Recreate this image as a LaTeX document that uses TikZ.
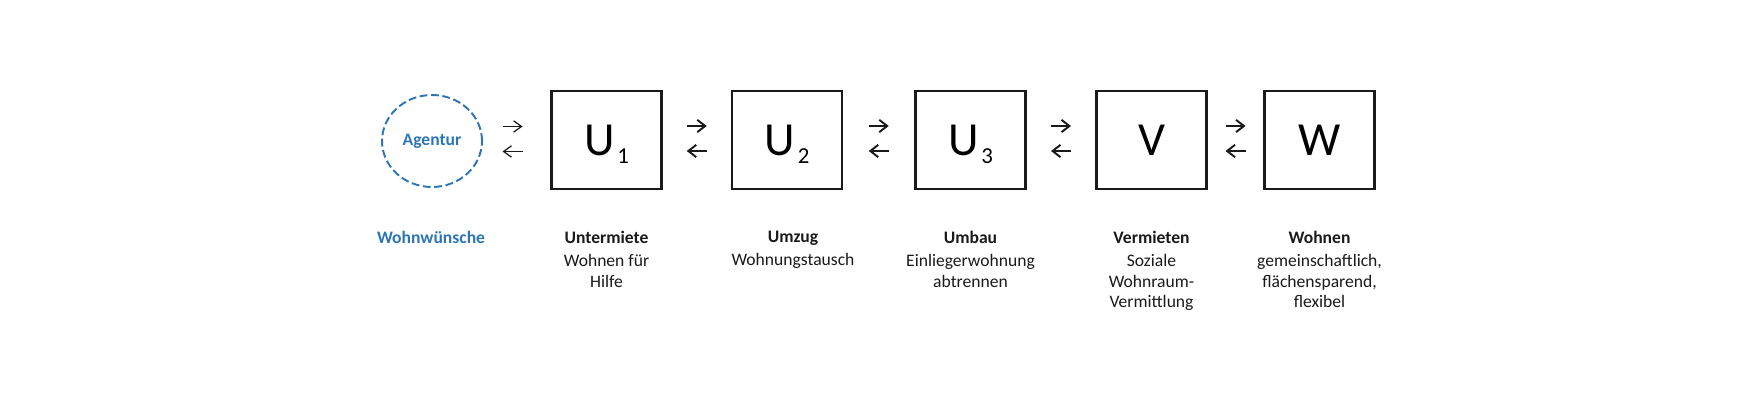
\documentclass[tikz,border=0pt]{standalone}
\usepackage{fontspec}
\setmainfont{Carlito}
\usetikzlibrary{shapes.geometric,arrows.meta,positioning,calc}
\definecolor{agblue}{HTML}{2E75B6}
\definecolor{dark}{HTML}{1A1A1A}

\newcommand{\unitname}[2]{{\fontsize{27}{30}\selectfont #1\kern1.5pt\raisebox{-5pt}[0pt][0pt]{\fontsize{13}{14}\selectfont #2}}}

\begin{document}
\begin{tikzpicture}[
    stage/.style={rectangle, draw=dark, line width=1.6pt, minimum width=2.2cm, minimum height=1.96cm, inner sep=0pt},
    caption/.style={anchor=north, inner sep=0pt, align=center, text=dark, font=\fontsize{10}{11.6}\selectfont},
    swap/.style={-{Straight Barb[length=4.5pt,width=7pt]}, line width=1.1pt, dark},
    swapthin/.style={-{Straight Barb[length=4.5pt,width=6.5pt]}, line width=0.7pt, dark}
  ]
    \useasboundingbox (0,0) rectangle (35.28,-8);

    \node[ellipse, draw=agblue, dashed, dash pattern=on 4.5pt off 2pt, line width=1.1pt, minimum width=2cm, minimum height=1.84cm, inner sep=0pt, text=agblue, font=\fontsize{10}{12}\selectfont\bfseries] (ag) at (8.64,-2.82) {Agentur};
    \node[stage] (u1) at (12.13,-2.8) {\unitname{U}{1}};
    \node[stage] (u2) at (15.74,-2.8) {\unitname{U}{2}};
    \node[stage] (u3) at (19.41,-2.8) {\unitname{U}{3}};
    \node[stage, font=\fontsize{27}{30}\selectfont] (v) at (23.03,-2.8) {V};
    \node[stage, font=\fontsize{27}{30}\selectfont] (w) at (26.39,-2.8) {W};

    \draw[swapthin] ($(ag.east)!0.5!(u1.west)+(-0.28,0.28)$) -- ++(0.4,0);
    \draw[swapthin] ($(ag.east)!0.5!(u1.west)+(0.12,-0.22)$) -- ++(-0.4,0);
    \draw[swap] ($(u1.east)!0.5!(u2.west)+(-0.2,0.28)$) -- ++(0.4,0);
    \draw[swap] ($(u1.east)!0.5!(u2.west)+(0.2,-0.22)$) -- ++(-0.4,0);
    \draw[swap] ($(u2.east)!0.5!(u3.west)+(-0.2,0.28)$) -- ++(0.4,0);
    \draw[swap] ($(u2.east)!0.5!(u3.west)+(0.2,-0.22)$) -- ++(-0.4,0);
    \draw[swap] ($(u3.east)!0.5!(v.west)+(-0.2,0.28)$) -- ++(0.4,0);
    \draw[swap] ($(u3.east)!0.5!(v.west)+(0.2,-0.22)$) -- ++(-0.4,0);
    \draw[swap] ($(v.east)!0.5!(w.west)+(-0.2,0.28)$) -- ++(0.4,0);
    \draw[swap] ($(v.east)!0.5!(w.west)+(0.2,-0.22)$) -- ++(-0.4,0);

    \node[caption, text=agblue, font=\fontsize{10}{11.6}\selectfont\bfseries] (agtext) at (8.62,-4.62) {Wohnwünsche};
    \node[caption] (u1text) at (12.13,-4.62) {\textbf{Untermiete}\\[1.5pt]Wohnen für\\Hilfe};
    \node[caption] (u2text) at (15.86,-4.62) {\textbf{Umzug}\\[1.5pt]Wohnungstausch};
    \node[caption] (u3text) at (19.41,-4.62) {\textbf{Umbau}\\[1.5pt]Einliegerwohnung\\abtrennen};
    \node[caption] (vtext) at (23.03,-4.62) {\textbf{Vermieten}\\[1.5pt]Soziale\\Wohnraum-\\Vermittlung};
    \node[caption] (wtext) at (26.39,-4.62) {\textbf{Wohnen}\\[1.5pt]gemeinschaftlich,\\flächensparend,\\flexibel};
\end{tikzpicture}
\end{document}
